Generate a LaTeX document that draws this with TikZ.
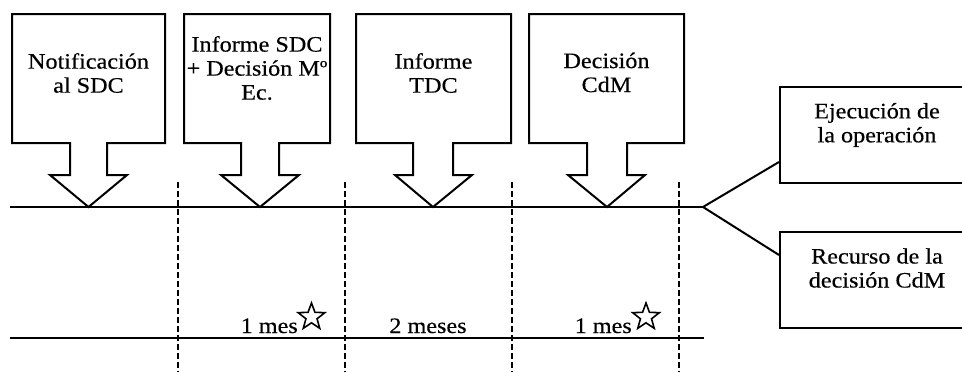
\documentclass[tikz,border=0pt]{standalone}
\usepackage{fontspec}
\setmainfont{Liberation Serif}[FakeStretch=1.1,FakeBold=0.4]
\usetikzlibrary{shapes.geometric}
\begin{document}
\begin{tikzpicture}[x=1pt,y=-1pt,
  lbl/.style={inner sep=0pt, align=center, font=\fontsize{22}{24}\selectfont},
  callout/.style={draw, line width=2pt, line join=miter},
  timeline/.style={line width=2pt},
  divider/.style={line width=1.6pt, dash pattern=on 6pt off 3pt},
  resultbox/.style={draw, line width=2pt, inner sep=0pt, minimum width=195pt, minimum height=96pt},
  starsym/.style={star, star points=5, star point ratio=2.4, draw, line width=1.6pt, inner sep=0pt, minimum size=28pt}]
\useasboundingbox (0,0) rectangle (962,372);
\clip (0,0) rectangle (962,372);

% callout boxes: L, R, stemL, stemR, headL, headR, tip
\newcommand\mycallout[8]{%
  \draw[callout] (#1,14) -- (#2,14) -- (#2,143) -- (#4,143) -- (#4,175) -- (#6,175)
    -- (#7,207) -- (#5,175) -- (#3,175) -- (#3,143) -- (#1,143) -- cycle;
  \coordinate (#8) at (#7,207);}
\mycallout{12}{165}{70}{107}{50}{127}{88.5}{tipA}
\mycallout{184}{330}{241}{279}{221}{299}{260}{tipB}
\mycallout{356}{511}{413}{453}{395}{472}{433}{tipC}
\mycallout{529}{684}{587}{627}{568}{645}{607}{tipD}

\node[lbl] (tA) at (88.5,73) {Notificación\\al SDC};
\node[lbl] (tB) at (257,68) {Informe SDC\\+ Decisión Mº\\Ec.};
\node[lbl] (tC) at (433.5,73) {Informe\\TDC};
\node[lbl] (tD) at (606.5,72.5) {Decisión\\CdM};

% top timeline and fork
\coordinate (tlstart) at (10,207);
\coordinate (fork) at (703,207);
\draw[timeline] (tlstart) -- (fork);

% result boxes
\node[resultbox] (ej) at (877.5,135) {};
\node[lbl] (ejtext) at (877,125) {Ejecución de\\la operación};
\node[resultbox] (rc) at (877.5,279.5) {};
\node[lbl] (rctext) at (877,268) {Recurso de la\\decisión CdM};
\draw[timeline] (fork) -- ([yshift=-27pt]ej.west);
\draw[timeline] (fork) -- ([yshift=24.5pt]rc.west);

% bottom line
\coordinate (blstart) at (10,338);
\coordinate (blend) at (704,338);
\draw[timeline] (blstart) -- (blend);

% dashed dividers
\foreach \x/\n in {178/d1,345/d2,512/d3,679/d4}{
  \coordinate (\n top) at (\x,182);
  \coordinate (\n bot) at (\x,372);
  \draw[divider] (\n top) -- (\n bot);
}

% period labels
\node[lbl, anchor=base east] (m1) at (298,333) {1 mes};
\node[starsym] (s1) at (311.5,317) {};
\node[lbl, anchor=base] (m2) at (428,333) {2 meses};
\node[lbl, anchor=base east] (m3) at (632,333) {1 mes};
\node[starsym] (s3) at (646,317) {};
\end{tikzpicture}
\end{document}
